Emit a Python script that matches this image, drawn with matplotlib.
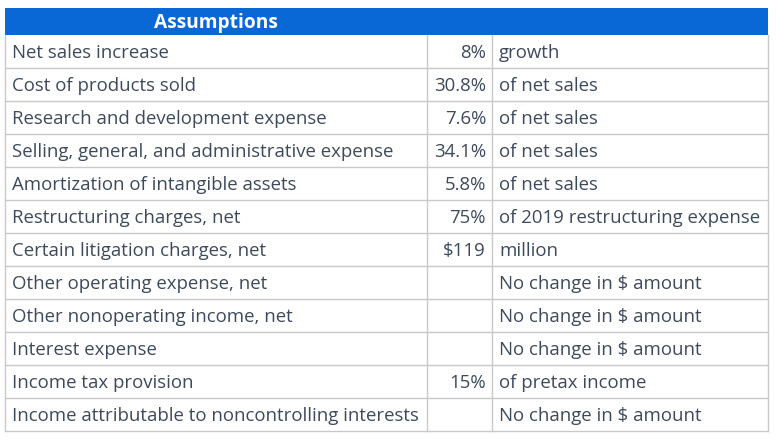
import matplotlib
matplotlib.use("Agg")
import matplotlib.pyplot as plt
from matplotlib.patches import Rectangle

title = "Assumptions"
items = [
    "Net sales increase",
    "Cost of products sold",
    "Research and development expense",
    "Selling, general, and administrative expense",
    "Amortization of intangible assets",
    "Restructuring charges, net",
    "Certain litigation charges, net",
    "Other operating expense, net",
    "Other nonoperating income, net",
    "Interest expense",
    "Income tax provision",
    "Income attributable to noncontrolling interests",
]
values = ["8%", "30.8%", "7.6%", "34.1%", "5.8%", "75%", "$119", "", "", "", "15%", ""]
notes = [
    "growth",
    "of net sales",
    "of net sales",
    "of net sales",
    "of net sales",
    "of 2019 restructuring expense",
    "million",
    "No change in $ amount",
    "No change in $ amount",
    "No change in $ amount",
    "of pretax income",
    "No change in $ amount",
]

W, H = 777, 442
fig = plt.figure(figsize=(W / 100, H / 100), dpi=100)
ax = fig.add_axes([0, 0, 1, 1])
ax.set_xlim(0, W)
ax.set_ylim(H, 0)
ax.axis("off")

left, right = 5, 768
col1, col2 = 427, 492
top, head_h, row_h = 8, 27, 33
text_c = "#3d4a5c"
grid_c = "#c9c9c9"
blue = "#0a68d6"
font = "Open Sans"
fs = 13.4

ax.add_patch(Rectangle((left, top), right - left, head_h, color=blue, lw=0))
ax.text((left + col1) / 2, top + 20, title, ha="center", va="baseline",
        color="white", fontsize=13.8, fontweight="bold", family=font)

y0 = top + head_h
n = len(items)
for i, (lab, val, note) in enumerate(zip(items, values, notes)):
    yb = y0 + row_h * i + 23
    ax.text(left + 7, yb, lab, ha="left", va="baseline", color=text_c, fontsize=fs, family=font)
    if val:
        ax.text(col2 - 6, yb, val, ha="right", va="baseline", color=text_c, fontsize=fs, family=font)
    ax.text(col2 + 7, yb, note, ha="left", va="baseline", color=text_c, fontsize=fs, family=font)
    ax.plot([left, right], [y0 + row_h * (i + 1)] * 2, color=grid_c, lw=1)

bottom = y0 + row_h * n
for x in (left, col1, col2, right):
    ax.plot([x, x], [y0, bottom], color=grid_c, lw=1)

fig.savefig("out.png", dpi=100)
